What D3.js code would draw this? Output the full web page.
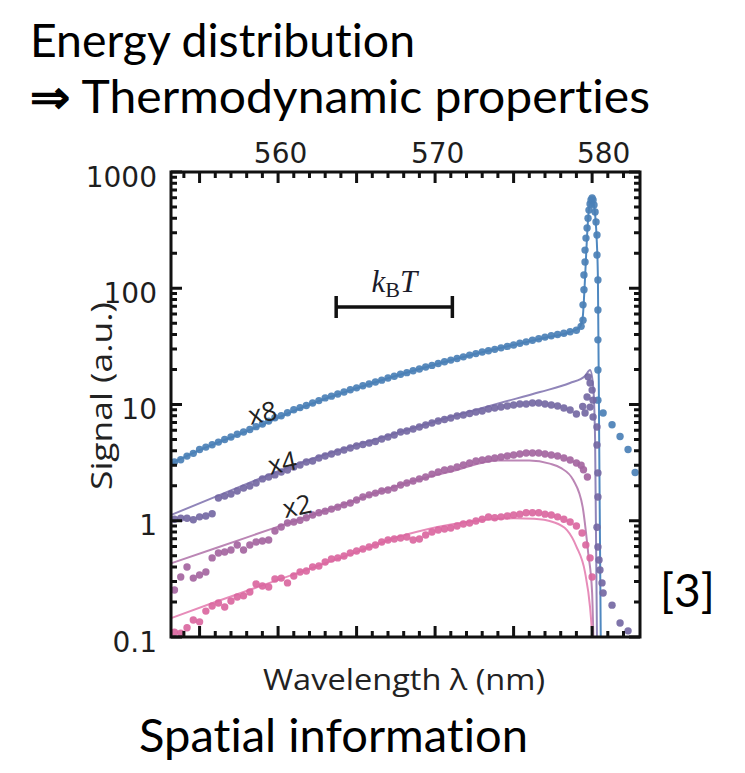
<!DOCTYPE html>
<html>
<head>
<meta charset="utf-8">
<script src="https://cdn.jsdelivr.net/npm/d3@7"></script>
<style>
  body { margin: 0; background: #fff; }
  svg { display: block; }
  .tick text { font-family: "DejaVu Sans", sans-serif; font-size: 28px; fill: #1e1e1e; }
  .slide-text { font-family: Lato, "Open Sans", sans-serif; font-size: 46px; fill: #000; font-feature-settings: "liga" 0; font-variant-ligatures: none; }
  .axis-label { font-family: "Open Sans", sans-serif; font-size: 30px; fill: #222; }
  .series-label { font-family: "Open Sans", sans-serif; font-size: 26px; fill: #222; }
</style>
</head>
<body>
<svg width="745" height="773"></svg>
<script>
// wavelength grid shared by the four spectra (nm)
const wavelength = [
  553.4, 553.8, 554.2, 554.6, 555.0, 555.4, 555.8, 556.2, 556.6, 557.0,
  557.4, 557.8, 558.2, 558.6, 559.0, 559.4, 559.8, 560.2, 560.6, 561.0,
  561.4, 561.8, 562.2, 562.6, 563.0, 563.4, 563.8, 564.2, 564.6, 565.0,
  565.4, 565.8, 566.2, 566.6, 567.0, 567.4, 567.8, 568.2, 568.6, 569.0,
  569.4, 569.8, 570.2, 570.6, 571.0, 571.4, 571.8, 572.2, 572.6, 573.0,
  573.4, 573.8, 574.2, 574.6, 575.0, 575.4, 575.8, 576.2, 576.6, 577.0,
  577.4, 577.8, 578.2, 578.6, 579.0
]

const signalX8 = [
  3.2, 3.35, 3.6, 3.8, 4.1, 4.3, 4.5, 4.75, 5.0, 5.25,
  5.55, 5.8, 6.1, 6.45, 6.8, 7.2, 7.7, 8.0, 8.5, 9.0,
  9.4, 9.8, 10.3, 10.8, 11.4, 11.8, 12.3, 12.8, 13.4, 13.9,
  14.5, 15.0, 15.6, 16.2, 16.9, 17.5, 18.2, 18.8, 19.5, 20.2,
  21.0, 21.7, 22.5, 23.3, 24.1, 24.9, 25.7, 26.6, 27.4, 28.3,
  29.0, 29.8, 30.7, 31.6, 32.5, 33.6, 34.6, 35.7, 36.8, 38.0,
  39.0, 40.0, 41.0, 42.2, 43.5
]

const signalX4 = [
  1.03, 1.05, 1.05, 1.02, 1.08, 1.10, 1.15, 1.57, 1.63, 1.70,
  1.80, 1.91, 1.99, 2.11, 2.29, 2.38, 2.48, 2.63, 2.73, 2.90,
  3.02, 3.20, 3.27, 3.47, 3.61, 3.75, 3.90, 4.06, 4.23, 4.40,
  4.53, 4.67, 4.81, 5.05, 5.25, 5.47, 5.80, 5.91, 6.15, 6.40,
  6.66, 6.93, 7.21, 7.43, 7.65, 7.96, 8.12, 8.37, 8.62, 8.79,
  9.15, 9.33, 9.51, 9.70, 9.90, 10.1, 10.1, 10.3, 10.3, 10.1,
  9.9, 9.7, 9.33, 8.98, 8.28
]

const signalX2 = [
  0.254, 0.328, 0.400, 0.321, 0.341, 0.362, 0.479, 0.528, 0.538, 0.560,
  0.618, 0.560, 0.618, 0.656, 0.670, 0.683, 0.817, 0.883, 0.957, 0.975,
  1.01, 1.06, 1.12, 1.17, 1.21, 1.26, 1.31, 1.37, 1.42, 1.51,
  1.60, 1.67, 1.73, 1.80, 1.84, 1.91, 2.03, 2.11, 2.20, 2.29,
  2.38, 2.52, 2.63, 2.73, 2.79, 2.90, 3.02, 3.14, 3.27, 3.33,
  3.40, 3.47, 3.53, 3.61, 3.68, 3.75, 3.83, 3.83, 3.83, 3.75,
  3.68, 3.61, 3.47, 3.33, 3.14
]

const signalX1 = [
  0.110, 0.108, 0.120, 0.140, 0.135, 0.167, 0.185, 0.196, 0.181, 0.204,
  0.221, 0.226, 0.244, 0.286, 0.275, 0.269, 0.315, 0.321, 0.292, 0.335,
  0.362, 0.370, 0.400, 0.408, 0.442, 0.469, 0.479, 0.498, 0.528, 0.550,
  0.571, 0.594, 0.618, 0.656, 0.683, 0.697, 0.711, 0.724, 0.683, 0.697,
  0.753, 0.800, 0.832, 0.849, 0.867, 0.902, 0.938, 0.957, 0.996, 1.03,
  1.08, 1.06, 1.08, 1.10, 1.12, 1.14, 1.17, 1.17, 1.17, 1.14,
  1.12, 1.08, 1.03, 0.975, 0.902
]

// extra points around the condensate peak [nm, signal]
const peakX8 = [
  [579.3, 47], [579.42, 53], [579.42, 72], [579.48, 97], [579.48, 130], [579.55, 168],
  [579.55, 213], [579.61, 270], [579.68, 330], [579.74, 400], [579.80, 470], [579.87, 530],
  [579.93, 575], [580.0, 597], [580.06, 575], [580.12, 520], [580.19, 453], [580.25, 372],
  [580.31, 287], [580.31, 193], [580.37, 118], [580.37, 65], [580.37, 36], [580.37, 19.8],
  [580.37, 10.9], [580.70, 8.45], [581.27, 6.7], [581.78, 5.3], [582.29, 4.1], [582.74, 2.6]
]
const peakX4 = [
  [579.4, 9.6], [579.55, 8.45], [579.68, 11.6], [579.74, 17.3], [579.87, 15.3], [579.87, 9.5],
  [580.0, 13.3], [580.06, 10.9], [580.06, 7.8], [580.31, 6.4], [580.31, 4.49], [580.37, 2.58],
  [580.37, 1.60], [580.31, 0.88], [580.37, 0.594], [580.44, 0.459], [580.5, 0.377],
  [580.63, 0.292], [580.7, 0.239], [581.27, 0.188], [581.78, 0.132], [582.29, 0.113]
]
const peakX2 = [[579.3, 3.0], [579.45, 2.75], [579.7, 2.38]]
const peakX1 = [[579.36, 0.785], [579.6, 0.62], [579.87, 0.479], [580.0, 0.328]]

// model fits [nm, signal]
const fitX8 = [
  [553.18, 3.1], [555, 4.05], [557, 5.2], [559, 6.7], [561, 8.8], [563, 11.2], [565, 13.8],
  [567, 16.8], [569, 20.2], [571, 24.0], [573, 28.2], [575, 32.5], [577, 37.5], [578.6, 42],
  [579.2, 46], [579.4, 56], [579.5, 90], [579.6, 170], [579.7, 320], [579.8, 480], [579.9, 570],
  [580.0, 590], [580.1, 540], [580.2, 420], [580.3, 250], [580.37, 120], [580.45, 5], [580.55, 0.08]
]
const fitX4 = [
  [553.18, 1.12], [556.3, 1.67], [561.4, 3.14], [567.77, 5.8], [570.95, 7.8], [574.14, 10.3],
  [576.68, 12.8], [578.59, 15.3], [579.55, 17.6], [579.87, 19.8], [580.06, 14.7], [580.19, 5],
  [580.31, 0.08]
]
const fitX2 = [
  [553.18, 0.43], [556, 0.58], [560, 0.89], [564, 1.36], [568, 2.08], [571, 2.65], [574, 3.3],
  [576, 3.3], [577.3, 3.1], [578, 2.85], [578.8, 2.24], [579.4, 1.31], [579.75, 0.53],
  [580.0, 0.24], [580.08, 0.08]
]
const fitX1 = [
  [553.18, 0.145], [556, 0.2], [560, 0.31], [564, 0.48], [568, 0.75], [571, 0.93], [573, 1.01],
  [575, 1.05], [576.3, 1.04], [577.5, 0.975], [578.4, 0.83], [579.0, 0.6], [579.55, 0.36],
  [579.87, 0.18], [580.02, 0.08]
]

const seriesNames = ['x8', 'x4', 'x2']
const seriesLabelAt = [[559.0, 8.6], [560.25, 3.2], [561.2, 1.36]]

const xMajor = [555, 560, 565, 570, 575, 580]
const xLabelled = [560, 570, 580]
const yMajor = [0.1, 1, 10, 100, 1000]
const kbtSpan = [563.7, 571.1]
const kbtLevel = 69

const svg = d3.select('svg')
const width = +svg.attr('width')
const height = +svg.attr('height')
const margin = { top: 172, right: 105, bottom: 136, left: 171 }
const innerWidth = width - margin.left - margin.right
const innerHeight = height - margin.top - margin.bottom

const series = [
  { values: signalX8, peak: peakX8, fit: fitX8, dot: '#4b80b6', line: '#4f88c0' },
  { values: signalX4, peak: peakX4, fit: fitX4, dot: '#7468a3', line: '#9085b9' },
  { values: signalX2, peak: peakX2, fit: fitX2, dot: '#a4659f', line: '#bb86b5' },
  { values: signalX1, peak: peakX1, fit: fitX1, dot: '#da67a0', line: '#e78cb9' }
]

const render = () => {
  const xScale = d3.scaleLinear()
    .domain([553.18, 583.05])
    .range([0, innerWidth])

  const yScale = d3.scaleLog()
    .domain([0.1, 1000])
    .range([innerHeight, 0])

  const g = svg.append('g')
    .attr('transform', `translate(${margin.left},${margin.top})`)

  // minor tick positions
  const xMinor = d3.range(554, 583).filter(v => v % 5 !== 0)
  const yMinor = []
  yMajor.slice(0, -1).forEach(d => [2, 3, 4, 5, 6, 7, 8, 9].forEach(m => yMinor.push(d * m)))

  // tick labels
  const topAxis = g.append('g')
    .call(d3.axisTop(xScale).tickValues(xLabelled).tickSize(0).tickPadding(9))
  topAxis.selectAll('text').attr('dx', d => d === 580 ? 11 : 2)
  const leftAxis = g.append('g')
    .call(d3.axisLeft(yScale).tickValues(yMajor).tickSize(0).tickPadding(14)
      .tickFormat(d => String(d)))
  leftAxis.selectAll('text').attr('dy', '0.5em')
  g.selectAll('.domain').remove()

  const plot = g.append('g')

  const line = d3.line()
    .x(d => xScale(d[0]))
    .y(d => yScale(Math.max(d[1], 0.1)))
    .curve(d3.curveMonotoneX)

  series.forEach(s => {
    plot.append('path')
      .datum(s.fit)
      .attr('d', line)
      .attr('fill', 'none')
      .attr('stroke', s.line)
      .attr('stroke-width', 2)
  })

  series.forEach(s => {
    const pts = wavelength.map((w, i) => [w, s.values[i]]).concat(s.peak)
    plot.append('g').selectAll('circle').data(pts)
      .enter().append('circle')
      .attr('cx', d => xScale(d[0]))
      .attr('cy', d => yScale(d[1]))
      .attr('r', 3.7)
      .attr('fill', s.dot)
      .attr('fill-opacity', 0.92)
  })

  // frame
  g.append('rect')
    .attr('width', innerWidth)
    .attr('height', innerHeight)
    .attr('fill', 'none')
    .attr('stroke', '#111')
    .attr('stroke-width', 3)

  // inward tick marks on all four sides
  const xTicks = xMajor.map(v => [v, 11]).concat(xMinor.map(v => [v, 6]))
  const yTicks = yMajor.map(v => [v, 11]).concat(yMinor.map(v => [v, 6]))
  const tickPath = d3.path()
  xTicks.forEach(([v, len]) => {
    const x = xScale(v)
    tickPath.moveTo(x, 0); tickPath.lineTo(x, len)
    tickPath.moveTo(x, innerHeight); tickPath.lineTo(x, innerHeight - len)
  })
  yTicks.forEach(([v, len]) => {
    const y = yScale(v)
    tickPath.moveTo(0, y); tickPath.lineTo(len, y)
    tickPath.moveTo(innerWidth, y); tickPath.lineTo(innerWidth - len, y)
  })
  g.append('path')
    .attr('d', tickPath.toString())
    .attr('fill', 'none')
    .attr('stroke', '#111')
    .attr('stroke-width', 3)

  // x8 / x4 / x2 labels
  g.selectAll('.series-label').data(seriesNames)
    .enter().append('text')
    .attr('class', 'series-label')
    .attr('text-anchor', 'middle')
    .attr('dominant-baseline', 'central')
    .attr('transform', (d, i) =>
      `translate(${xScale(seriesLabelAt[i][0])},${yScale(seriesLabelAt[i][1])}) rotate(-12)`)
    .text(d => d)

  // k_B T bar
  const ky = yScale(kbtLevel)
  const kx0 = xScale(kbtSpan[0])
  const kx1 = xScale(kbtSpan[1])
  const kbtPath = d3.path()
  kbtPath.moveTo(kx0, ky); kbtPath.lineTo(kx1, ky)
  kbtPath.moveTo(kx0, ky - 11); kbtPath.lineTo(kx0, ky + 11)
  kbtPath.moveTo(kx1, ky - 11); kbtPath.lineTo(kx1, ky + 11)
  g.append('path')
    .attr('d', kbtPath.toString())
    .attr('fill', 'none')
    .attr('stroke', '#111')
    .attr('stroke-width', 3.5)

  const kt = g.append('text')
    .attr('x', (kx0 + kx1) / 2)
    .attr('y', ky - 15)
    .attr('text-anchor', 'middle')
    .style('font-family', '"Liberation Serif", serif')
    .style('font-size', '31px')
    .attr('fill', '#1b1b2a')
  kt.append('tspan').style('font-style', 'italic').text('k')
  kt.append('tspan').attr('dy', 5).style('font-size', '22px').text('B')
  kt.append('tspan').attr('dy', -5).style('font-style', 'italic').text('T')
}

render()

// axis titles
svg.append('text')
  .attr('class', 'axis-label')
  .attr('x', 404)
  .attr('y', 690)
  .attr('text-anchor', 'middle')
  .attr('textLength', 282)
  .attr('lengthAdjust', 'spacingAndGlyphs')
  .text('Wavelength λ (nm)')

svg.append('text')
  .attr('class', 'axis-label')
  .attr('transform', 'translate(112,396) rotate(-90)')
  .attr('text-anchor', 'middle')
  .attr('textLength', 188)
  .attr('lengthAdjust', 'spacingAndGlyphs')
  .text('Signal (a.u.)')

// slide text around the chart
svg.append('text').attr('class', 'slide-text')
  .attr('x', 30).attr('y', 57)
  .attr('textLength', 385).attr('lengthAdjust', 'spacingAndGlyphs')
  .text('Energy distribution')
const subtitle = svg.append('text').attr('class', 'slide-text')
  .attr('x', 30).attr('y', 113)
  .attr('textLength', 620).attr('lengthAdjust', 'spacingAndGlyphs')
subtitle.append('tspan').style('font-weight', 'bold').text('⇒')
subtitle.append('tspan').text(' Thermodynamic properties')
svg.append('text').attr('class', 'slide-text')
  .attr('x', 139).attr('y', 752)
  .attr('textLength', 389).attr('lengthAdjust', 'spacingAndGlyphs')
  .text('Spatial information')
svg.append('text').attr('class', 'slide-text')
  .attr('x', 660).attr('y', 607)
  .text('[3]')
</script>
</body>
</html>
